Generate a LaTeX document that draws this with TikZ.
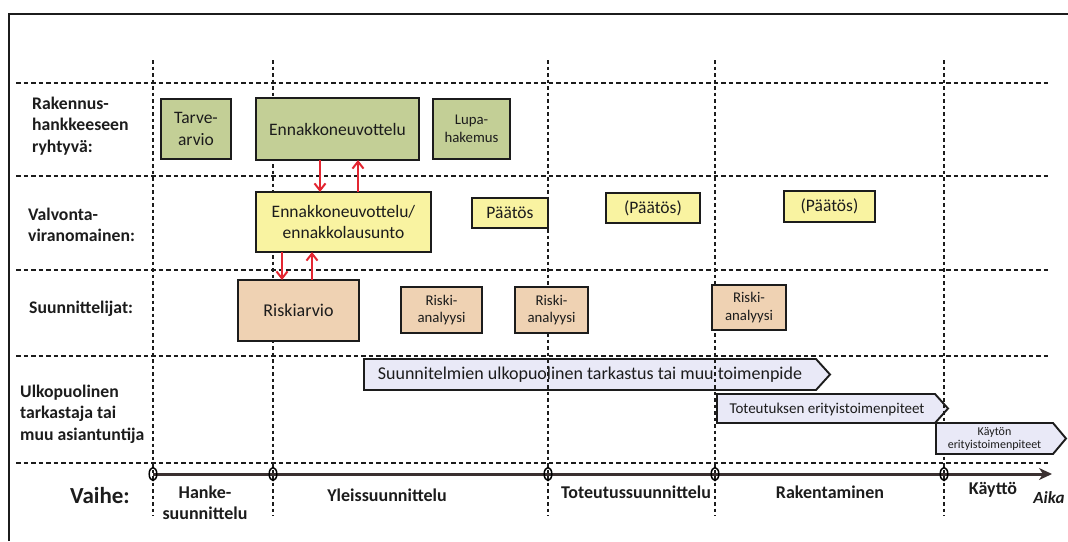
\documentclass[tikz,border=0pt]{standalone}
\usepackage{fontspec}
\setmainfont{Carlito}
\usetikzlibrary{arrows.meta,calc}
\definecolor{ink}{HTML}{1C1C1C}
\definecolor{greenfill}{HTML}{C3CF96}
\definecolor{yellowfill}{HTML}{F9F3A1}
\definecolor{tanfill}{HTML}{EFD2B3}
\definecolor{lavfill}{HTML}{E9E9F7}
\definecolor{arrowred}{HTML}{E32631}
\definecolor{axisdark}{HTML}{3A3030}
\begin{document}
\begin{tikzpicture}[x=1pt,y=-1pt,
  hgrid/.style={line width=1.3pt, dash pattern=on 4.5pt off 3pt, draw=ink},
  vgrid/.style={line width=1.3pt, dash pattern=on 3.5pt off 3pt, draw=ink},
  box/.style={draw=ink, line width=1.9pt, inner sep=0pt, outer sep=0pt,
    align=center, text=ink},
  greenbox/.style={box, fill=greenfill},
  yellowbox/.style={box, fill=yellowfill},
  tanbox/.style={box, fill=tanfill},
  sigshape/.style={draw=ink, line width=1.9pt, fill=lavfill, line join=miter},
  rowlab/.style={anchor=west, align=left, text=ink, inner sep=0pt,
    font=\fontsize{17.7}{21.5}\selectfont\bfseries},
  phaselab/.style={align=center, text=ink, inner sep=0pt,
    font=\fontsize{18}{21}\selectfont\bfseries},
  big/.style={font=\fontsize{17.5}{21.5}\selectfont},
  small/.style={font=\fontsize{14.8}{17.5}\selectfont},
  flow/.style={draw=arrowred, line width=2pt,
    -{Straight Barb[length=7pt,width=11pt]}},
  tick/.style={draw=black, line width=1.5pt}
]
\useasboundingbox (0,0) rectangle (1068,541);

% outer frame
\draw[ink, line width=1.5pt] (9,541) -- (9,14) -- (1068,14);

% long arrows of the outside reviewers (below the grid)
\path[sigshape] (364,359) -- (816,359) -- (830,374.5) -- (816,390) -- (364,390) -- cycle;
\node[text=ink, inner sep=0pt, font=\fontsize{18}{21}\selectfont] (tark) at (590,375)
  {Suunnitelmien ulkopuolinen tarkastus tai muu toimenpide};
\path[sigshape] (717,394) -- (935,394) -- (948,408.5) -- (935,423) -- (717,423) -- cycle;
\node[text=ink, inner sep=0pt, font=\fontsize{15}{18}\selectfont] (tot) at (827,409)
  {Toteutuksen erityistoimenpiteet};

% horizontal row separators
\foreach \y in {83,176,270,356,463}
  \draw[hgrid] (16,\y) -- (1050,\y);
% vertical phase separators
\foreach \x/\n in {153/a,273/b,548/c,715/d,944/e}{
  \draw[vgrid] (\x,60) -- (\x,516);
  \coordinate (m\n) at (\x,474);
}

% row labels
\node[rowlab] (r1) at (32,126) {Rakennus-\\hankkeeseen\\ryhtyvä:};
\node[rowlab] (r2) at (28,225) {Valvonta-\\viranomainen:};
\node[rowlab] (r3) at (29,309) {Suunnittelijat:};
\node[rowlab] (r4) at (20,414) {Ulkopuolinen\\tarkastaja tai\\muu asiantuntija};
\node[anchor=west, text=ink, inner sep=0pt,
  font=\fontsize{23}{26}\selectfont\bfseries] (vaihe) at (70,496) {Vaihe:};

% row 1: developer
\node[greenbox, big, minimum width=70pt, minimum height=60pt] (tarve) at (196,129) {Tarve-\\arvio};
\node[greenbox, big, minimum width=163pt, minimum height=62pt] (ennA) at (337.5,129) {Ennakkoneuvottelu};
\node[greenbox, small, minimum width=77pt, minimum height=60pt] (lupa) at (471.5,129) {Lupa-\\hakemus};

% row 2: authority
\node[yellowbox, big, minimum width=175pt, minimum height=60pt] (ennB) at (343.5,222) {Ennakkoneuvottelu/\\ennakkolausunto};
\node[yellowbox, big, minimum width=76pt, minimum height=30pt] (p1) at (510,213) {Päätös};
\node[yellowbox, big, minimum width=94pt, minimum height=30pt] (p2) at (653,208) {(Päätös)};
\node[yellowbox, big, minimum width=91pt, minimum height=31pt] (p3) at (829.5,206.5) {(Päätös)};

% row 3: designers
\node[tanbox, font=\fontsize{18}{21}\selectfont, minimum width=121pt, minimum height=61pt] (riski) at (298.5,310.5) {Riskiarvio};
\node[tanbox, small, minimum width=81pt, minimum height=46pt] (ra1) at (441.5,310) {Riski-\\analyysi};
\node[tanbox, small, minimum width=73pt, minimum height=46pt] (ra2) at (551.5,310) {Riski-\\analyysi};
\node[tanbox, small, minimum width=74pt, minimum height=45pt] (ra3) at (749,307.5) {Riski-\\analyysi};

% operation-phase arrow
\path[sigshape] (936,423) -- (1053,423) -- (1066,438.5) -- (1053,454) -- (936,454) -- cycle;
\node[text=ink, inner sep=0pt, align=center, font=\fontsize{12}{13.5}\selectfont] (kay) at (994.5,439)
  {Käytön\\erityistoimenpiteet};

% consultation flows
\coordinate (fa) at (320,0);
\coordinate (fb) at (358,0);
\coordinate (fc) at (282,0);
\coordinate (fd) at (312,0);
\draw[flow] (ennA.south -| fa) -- (ennB.north -| fa);
\draw[flow] (ennB.north -| fb) -- (ennA.south -| fb);
\draw[flow] (ennB.south -| fc) -- (riski.north -| fc);
\draw[flow] (riski.north -| fd) -- (ennB.south -| fd);

% time axis
\coordinate (axend) at (1052,474);
\draw[axisdark, line width=3pt, -{Stealth[length=13pt,width=12pt,inset=4pt]}] (ma) -- (axend);
\foreach \n in {a,b,c,d,e}
  \draw[tick] (m\n) ellipse [x radius=3.8pt, y radius=6.5pt];

% phase names
\node[phaselab] (ph1) at (205,503) {Hanke-\\suunnittelu};
\node[phaselab] (ph2) at (387,495) {Yleissuunnittelu};
\node[phaselab] (ph3) at (636,492) {Toteutussuunnittelu};
\node[phaselab] (ph4) at (830,492) {Rakentaminen};
\node[phaselab] (ph5) at (993,490) {Käyttö};
\node[text=ink, inner sep=0pt, font=\fontsize{17}{20}\selectfont\bfseries\itshape] (aika) at (1049,498) {Aika};
\end{tikzpicture}
\end{document}
